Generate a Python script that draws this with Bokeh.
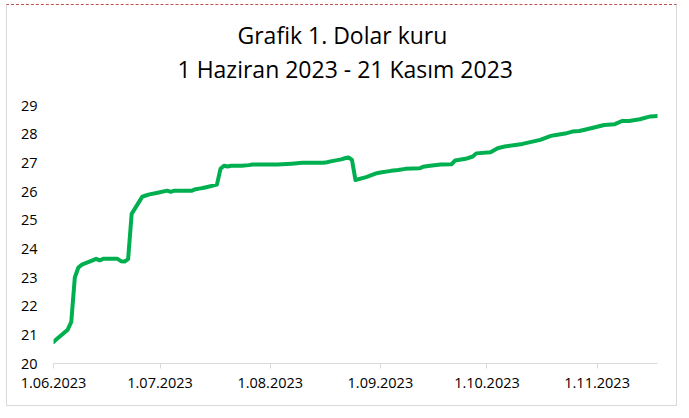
import pandas as pd
from bokeh.plotting import figure
from bokeh.models import Range1d, FixedTicker, Title
from bokeh.embed import file_html
from bokeh.resources import INLINE

# Dolar kuru (TL)
dates = [
    "2023-06-01", "2023-06-02", "2023-06-05", "2023-06-06", "2023-06-07", "2023-06-08",
    "2023-06-09", "2023-06-12", "2023-06-13", "2023-06-14", "2023-06-15", "2023-06-16",
    "2023-06-19", "2023-06-20", "2023-06-21", "2023-06-22", "2023-06-23", "2023-06-26",
    "2023-06-27", "2023-06-28", "2023-06-30", "2023-07-03", "2023-07-04", "2023-07-05",
    "2023-07-06", "2023-07-10", "2023-07-11", "2023-07-12", "2023-07-13", "2023-07-14",
    "2023-07-17", "2023-07-18", "2023-07-19", "2023-07-20", "2023-07-21", "2023-07-24",
    "2023-07-26", "2023-07-27", "2023-08-03", "2023-08-07", "2023-08-10", "2023-08-16",
    "2023-08-17", "2023-08-18", "2023-08-21", "2023-08-22", "2023-08-23", "2023-08-24",
    "2023-08-25", "2023-08-28", "2023-08-31", "2023-09-01", "2023-09-04", "2023-09-06",
    "2023-09-08", "2023-09-12", "2023-09-13", "2023-09-15", "2023-09-18", "2023-09-21",
    "2023-09-22", "2023-09-25", "2023-09-27", "2023-09-28", "2023-10-02", "2023-10-04",
    "2023-10-06", "2023-10-11", "2023-10-16", "2023-10-19", "2023-10-20", "2023-10-23",
    "2023-10-25", "2023-10-27", "2023-10-30", "2023-11-03", "2023-11-06", "2023-11-08",
    "2023-11-10", "2023-11-13", "2023-11-16", "2023-11-18",
]
kur = [
    20.75, 20.86, 21.18, 21.45, 23.00, 23.35,
    23.45, 23.60, 23.65, 23.60, 23.65, 23.65,
    23.65, 23.57, 23.56, 23.64, 25.22, 25.82,
    25.86, 25.90, 25.95, 26.03, 25.99, 26.03,
    26.03, 26.03, 26.08, 26.10, 26.12, 26.15,
    26.24, 26.79, 26.90, 26.87, 26.90, 26.90,
    26.92, 26.94, 26.94, 26.97, 27.00, 27.00,
    27.02, 27.05, 27.12, 27.16, 27.19, 27.10,
    26.40, 26.50, 26.64, 26.66, 26.72, 26.75,
    26.79, 26.81, 26.86, 26.90, 26.94, 26.95,
    27.08, 27.14, 27.22, 27.33, 27.37, 27.51,
    27.57, 27.66, 27.80, 27.94, 27.96, 28.02,
    28.09, 28.11, 28.20, 28.32, 28.35, 28.46,
    28.46, 28.52, 28.62, 28.63,
]
tick_dates = ["2023-06-01", "2023-07-01", "2023-08-01", "2023-09-01", "2023-10-01", "2023-11-01"]
tick_labels = ["1.06.2023", "1.07.2023", "1.08.2023", "1.09.2023", "1.10.2023", "1.11.2023"]
y_ticks = [20, 21, 22, 23, 24, 25, 26, 27, 28, 29]
title_lines = ["Grafik 1. Dolar kuru", "1 Haziran 2023 - 21 Kasım 2023"]

x = pd.to_datetime(dates)
tick_ms = [float(pd.Timestamp(d).value // 10**6) for d in tick_dates]

FONT = "Open Sans"

p = figure(width=671, height=402, x_axis_type="datetime",
           x_range=Range1d(x[0], x[-1]), y_range=Range1d(20, 29),
           output_backend="svg", toolbar_location=None, title=None,
           min_border_left=46, min_border_right=21, min_border_top=100, min_border_bottom=44,
           styles={"margin": "4px 0 0 6px", "border": "1px solid #d9d9d9",
                   "border-top": "1px dashed #c0504d"})

p.line(x, kur, line_color="#00b050", line_width=4, line_join="round", line_cap="round")

# titles stack outward from the frame: a blank spacer first, then line 2, then line 1
p.add_layout(Title(text=" ", text_font_size="1px", standoff=18), "above")
p.add_layout(Title(text=title_lines[1], align="left", offset=124,
                   text_font=FONT, text_font_size="23px", text_font_style="normal",
                   text_color="black", standoff=0), "above")
p.add_layout(Title(text=title_lines[0], align="left", offset=184,
                   text_font=FONT, text_font_size="23px", text_font_style="normal",
                   text_color="black", standoff=0), "above")

p.grid.visible = False
p.outline_line_color = None

xa = p.xaxis[0]
xa.ticker = FixedTicker(ticks=tick_ms)
xa.major_label_overrides = dict(zip(tick_ms, tick_labels))
xa.axis_line_color = "#d9d9d9"
xa.major_tick_line_color = "#d9d9d9"
xa.major_tick_in = 0
xa.major_tick_out = 5
xa.minor_tick_line_color = None
xa.major_label_text_font = FONT
xa.major_label_text_font_size = "14.5px"
xa.major_label_text_color = "black"
xa.major_label_standoff = 9

ya = p.yaxis[0]
ya.ticker = FixedTicker(ticks=y_ticks)
ya.axis_line_color = None
ya.major_tick_line_color = None
ya.minor_tick_line_color = None
ya.major_label_text_font = FONT
ya.major_label_text_font_size = "14.5px"
ya.major_label_text_color = "black"
ya.major_label_standoff = 10

open("out.html", "w").write(file_html(p, INLINE))
